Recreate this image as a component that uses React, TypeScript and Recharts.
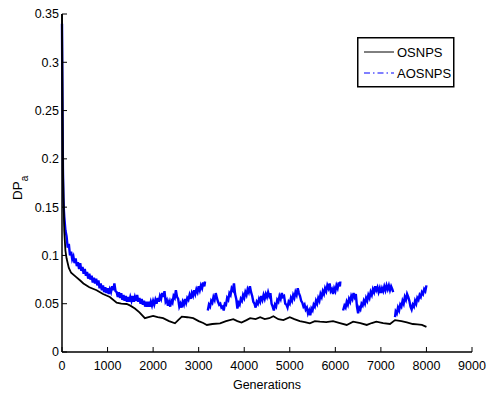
import React from 'react';
import { LineChart, Line, XAxis, YAxis, Legend } from 'recharts';

// axis ticks
const xTicks = [0, 1000, 2000, 3000, 4000, 5000, 6000, 7000, 8000, 9000];
const yTicks = [0, 0.05, 0.1, 0.15, 0.2, 0.25, 0.3, 0.35];

// OSNPS (black solid): [generation, DP_a]
const osnps: [number, number][] = [
  [0, 0.35], [10, 0.28], [25, 0.18], [50, 0.125], [75, 0.105], [100, 0.097], [150, 0.087], [200, 0.082],
  [300, 0.078], [400, 0.074], [470, 0.071], [600, 0.067], [760, 0.064], [900, 0.06], [1050, 0.057],
  [1200, 0.051], [1300, 0.05], [1420, 0.0497], [1500, 0.048], [1600, 0.045], [1700, 0.041], [1820, 0.035],
  [1900, 0.036], [2000, 0.0373], [2100, 0.036], [2220, 0.035], [2350, 0.032], [2480, 0.0297], [2550, 0.033],
  [2630, 0.0366], [2750, 0.036], [2880, 0.035], [3000, 0.032], [3100, 0.03], [3180, 0.028], [3300, 0.029],
  [3470, 0.0297], [3600, 0.032], [3760, 0.034], [3850, 0.032], [3940, 0.0304], [4050, 0.033], [4130, 0.035],
  [4250, 0.034], [4350, 0.036], [4450, 0.034], [4550, 0.035], [4640, 0.037], [4750, 0.034], [4860, 0.033],
  [5000, 0.036], [5100, 0.034], [5220, 0.032], [5330, 0.031], [5440, 0.0297], [5550, 0.032], [5660, 0.0314],
  [5800, 0.031], [5950, 0.032], [6100, 0.03], [6250, 0.028], [6390, 0.0314], [6550, 0.03], [6690, 0.028],
  [6800, 0.03], [6900, 0.0314], [7050, 0.03], [7200, 0.029], [7310, 0.033], [7450, 0.032], [7570, 0.0307],
  [7700, 0.029], [7800, 0.0287], [7900, 0.028], [8000, 0.026],
];

// AOSNPS (blue, very noisy band, breaks at the sudden drops)
const aosnps: [number, number | null][] = [
  [0, 0.34], [10, 0.25], [20, 0.19], [30, 0.16], [40, 0.148], [50, 0.14], [75, 0.126], [100, 0.12],
  [125, 0.108], [150, 0.112], [175, 0.1], [200, 0.104], [225, 0.096], [250, 0.099], [275, 0.092], [300, 0.097],
  [325, 0.089], [350, 0.093], [375, 0.086], [400, 0.092], [425, 0.084], [450, 0.088], [475, 0.081], [500, 0.086],
  [525, 0.079], [550, 0.083], [575, 0.076], [600, 0.081], [625, 0.075], [650, 0.079], [675, 0.072], [700, 0.077],
  [725, 0.071], [750, 0.076], [775, 0.069], [800, 0.074], [825, 0.066], [850, 0.071], [875, 0.064], [900, 0.069],
  [925, 0.062], [950, 0.067], [975, 0.061], [1000, 0.066], [1025, 0.06], [1050, 0.065], [1075, 0.062], [1100, 0.068],
  [1125, 0.064], [1150, 0.071], [1175, 0.063], [1200, 0.062], [1225, 0.057], [1250, 0.062], [1275, 0.056], [1300, 0.061],
  [1325, 0.054], [1350, 0.059], [1375, 0.053], [1400, 0.058], [1425, 0.052], [1450, 0.057], [1475, 0.052], [1500, 0.057],
  [1525, 0.053], [1550, 0.058], [1575, 0.052], [1600, 0.057], [1625, 0.053], [1650, 0.059], [1675, 0.052], [1700, 0.056],
  [1725, 0.05], [1750, 0.055], [1775, 0.049], [1800, 0.053], [1825, 0.047], [1850, 0.052], [1875, 0.047], [1900, 0.052],
  [1925, 0.047], [1950, 0.052], [1975, 0.048], [2000, 0.053], [2025, 0.049], [2050, 0.054], [2075, 0.05], [2100, 0.056],
  [2125, 0.052], [2150, 0.058], [2175, 0.055], [2200, 0.061], [2225, 0.057], [2250, 0.063], [2275, 0.052], [2300, 0.054],
  [2325, 0.048], [2350, 0.052], [2375, 0.047], [2400, 0.053], [2425, 0.051], [2450, 0.058], [2475, 0.056], [2500, 0.064],
  [2525, 0.057], [2550, 0.055], [2575, 0.047], [2600, 0.05], [2625, 0.046], [2650, 0.052], [2675, 0.049], [2700, 0.055],
  [2725, 0.051], [2750, 0.056], [2775, 0.054], [2800, 0.059], [2825, 0.055], [2850, 0.061], [2875, 0.058], [2900, 0.064],
  [2925, 0.06], [2950, 0.065], [2975, 0.062], [3000, 0.068], [3025, 0.064], [3050, 0.069], [3075, 0.066], [3100, 0.072],
  [3125, 0.068], [3140, 0.073], [3160, null], [3200, 0.043], [3225, 0.049], [3250, 0.047], [3275, 0.053], [3300, 0.051],
  [3325, 0.057], [3350, 0.054], [3375, 0.061], [3400, 0.056], [3425, 0.052], [3450, 0.049], [3475, 0.05], [3500, 0.046],
  [3525, 0.047], [3550, 0.043], [3575, 0.05], [3600, 0.049], [3625, 0.056], [3650, 0.054], [3675, 0.061], [3700, 0.059],
  [3725, 0.066], [3750, 0.064], [3775, 0.071], [3800, 0.06], [3825, 0.055], [3850, 0.045], [3875, 0.051], [3900, 0.049],
  [3925, 0.055], [3950, 0.053], [3975, 0.059], [4000, 0.056], [4025, 0.062], [4050, 0.059], [4075, 0.065], [4100, 0.062],
  [4125, 0.068], [4150, 0.062], [4175, 0.058], [4200, 0.052], [4225, 0.05], [4250, 0.046], [4275, 0.052], [4300, 0.05],
  [4325, 0.055], [4350, 0.052], [4375, 0.058], [4400, 0.054], [4425, 0.059], [4450, 0.055], [4475, 0.06], [4500, 0.057],
  [4525, 0.062], [4550, 0.058], [4575, 0.061], [4600, 0.05], [4625, 0.047], [4650, 0.043], [4675, 0.049], [4700, 0.047],
  [4725, 0.054], [4750, 0.052], [4775, 0.058], [4800, 0.055], [4825, 0.061], [4850, 0.057], [4875, 0.058], [4900, 0.05],
  [4925, 0.049], [4950, 0.046], [4975, 0.052], [5000, 0.05], [5025, 0.056], [5050, 0.053], [5075, 0.059], [5100, 0.056],
  [5125, 0.062], [5150, 0.059], [5175, 0.066], [5200, 0.061], [5225, 0.058], [5250, 0.053], [5275, 0.051], [5300, 0.047],
  [5325, 0.049], [5350, 0.044], [5375, 0.046], [5400, 0.04], [5425, 0.043], [5450, 0.038], [5475, 0.045], [5500, 0.043],
  [5525, 0.049], [5550, 0.047], [5575, 0.053], [5600, 0.05], [5625, 0.056], [5650, 0.053], [5675, 0.06], [5700, 0.057],
  [5725, 0.063], [5750, 0.06], [5775, 0.066], [5800, 0.063], [5825, 0.069], [5850, 0.066], [5875, 0.071], [5900, 0.063],
  [5925, 0.065], [5950, 0.06], [5975, 0.066], [6000, 0.063], [6025, 0.069], [6050, 0.066], [6075, 0.072], [6100, 0.068],
  [6110, 0.073], [6130, null], [6170, 0.043], [6200, 0.048], [6225, 0.046], [6250, 0.052], [6275, 0.049], [6300, 0.055],
  [6325, 0.052], [6350, 0.058], [6375, 0.055], [6400, 0.061], [6425, 0.057], [6450, 0.06], [6475, 0.047], [6500, 0.04],
  [6525, 0.046], [6550, 0.044], [6575, 0.05], [6600, 0.048], [6625, 0.053], [6650, 0.05], [6675, 0.056], [6700, 0.053],
  [6725, 0.059], [6750, 0.056], [6775, 0.062], [6800, 0.059], [6825, 0.065], [6850, 0.062], [6875, 0.068], [6900, 0.064],
  [6925, 0.067], [6950, 0.062], [6975, 0.066], [7000, 0.061], [7025, 0.066], [7050, 0.063], [7075, 0.068], [7100, 0.064],
  [7125, 0.069], [7150, 0.065], [7175, 0.069], [7200, 0.064], [7225, 0.068], [7250, 0.065], [7270, 0.062], [7290, null],
  [7310, 0.036], [7325, 0.042], [7350, 0.04], [7375, 0.046], [7400, 0.043], [7425, 0.049], [7450, 0.047], [7475, 0.053],
  [7500, 0.05], [7525, 0.057], [7550, 0.054], [7575, 0.06], [7600, 0.057], [7625, 0.053], [7650, 0.047], [7675, 0.044],
  [7700, 0.049], [7725, 0.047], [7750, 0.053], [7775, 0.05], [7800, 0.056], [7825, 0.054], [7850, 0.059], [7875, 0.057],
  [7900, 0.062], [7925, 0.06], [7950, 0.065], [7975, 0.063], [8000, 0.069],
];

const osnpsData = osnps.map(([g, v]) => ({ gen: g, value: v }));
const aosnpsData = aosnps.map(([g, v]) => ({ gen: g, value: v }));

const FONT = '"Liberation Sans", Arial, sans-serif';
const tickStyle = { fontSize: 12.5, fill: '#000', fontFamily: FONT };

const renderLegend = () => (
  <svg width={98} height={51} style={{ display: 'block' }}>
    <rect x={0.75} y={0.75} width={96} height={49} fill="#fff" stroke="#000" strokeWidth={1.5} />
    <line x1={7} x2={37} y1={15} y2={15} stroke="#000" strokeWidth={1} />
    <text x={40} y={20} fontSize={13} fontFamily={FONT} fill="#000">OSNPS</text>
    <line x1={7} x2={37} y1={36} y2={36} stroke="#0000ff" strokeWidth={1} strokeDasharray="6 3 1.5 3" />
    <text x={40} y={41} fontSize={13} fontFamily={FONT} fill="#000">AOSNPS</text>
  </svg>
);

const renderYLabel = () => (
  <text transform="translate(22,200) rotate(-90)" x={0} y={0} fontSize={13.5} fontFamily={FONT} fill="#000">
    DP<tspan dy={6} fontSize={10}>a</tspan>
  </text>
);

export default function App() {
  return (
    <div style={{ position: 'absolute', left: 0, top: 0, background: '#fff' }}>
      <LineChart width={491} height={394} data={osnpsData} margin={{ top: 14, right: 19, bottom: 2, left: 0 }}>
        <XAxis
          dataKey="gen"
          type="number"
          domain={[0, 9000]}
          ticks={xTicks}
          interval={0}
          height={40}
          tickSize={-5}
          tickMargin={14}
          tick={tickStyle}
          axisLine={{ stroke: '#000', strokeWidth: 1.5 }}
          tickLine={{ stroke: '#000' }}
          label={{ value: 'Generations', position: 'insideBottom', offset: 3, fontSize: 12.5, fill: '#000', fontFamily: FONT }}
        />
        <XAxis
          xAxisId="top"
          orientation="top"
          type="number"
          domain={[0, 9000]}
          ticks={xTicks}
          height={0}
          tickSize={-5}
          tick={false}
          axisLine={{ stroke: '#000', strokeWidth: 1.5 }}
          tickLine={{ stroke: '#000' }}
        />
        <YAxis
          type="number"
          domain={[0, 0.35]}
          ticks={yTicks}
          interval={0}
          width={62}
          tickSize={-5}
          tickMargin={8}
          tick={tickStyle}
          axisLine={{ stroke: '#000', strokeWidth: 1.5 }}
          tickLine={{ stroke: '#000' }}
          label={renderYLabel}
        />
        <YAxis
          yAxisId="right"
          orientation="right"
          type="number"
          domain={[0, 0.35]}
          ticks={yTicks}
          width={0}
          tickSize={-5}
          tick={false}
          axisLine={{ stroke: '#000', strokeWidth: 1.5 }}
          tickLine={{ stroke: '#000' }}
        />
        <Legend
          layout="horizontal"
          verticalAlign="middle"
          align="center"
          content={renderLegend}
          wrapperStyle={{ top: 37, left: 357, width: 98, height: 51 }}
        />
        <Line
          data={aosnpsData}
          dataKey="value"
          name="AOSNPS"
          stroke="#0000ff"
          strokeWidth={2.4}
          dot={false}
          isAnimationActive={false}
        />
        <Line
          data={osnpsData}
          dataKey="value"
          name="OSNPS"
          stroke="#000"
          strokeWidth={1.8}
          dot={false}
          isAnimationActive={false}
        />
      </LineChart>
    </div>
  );
}
